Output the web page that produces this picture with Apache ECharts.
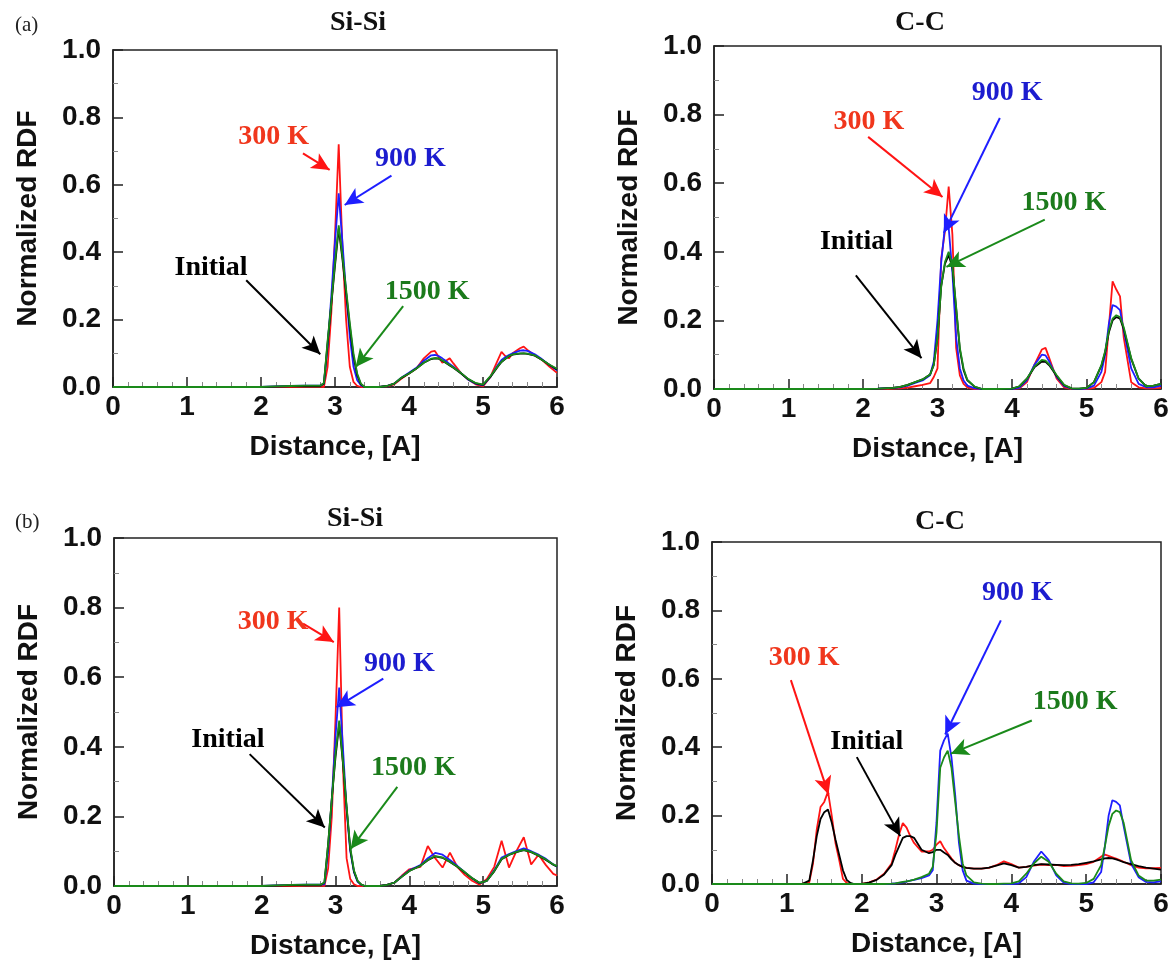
<!DOCTYPE html>
<html><head><meta charset="utf-8">
<script src="https://cdn.jsdelivr.net/npm/echarts@6/dist/echarts.min.js"></script>
<style>html,body{margin:0;padding:0;background:#fff}#c{width:1172px;height:968px}</style>
</head><body><div id="c"></div><script>
// ---------- DATA ----------
// (a) Si-Si
const xSiA = [0, 1, 2, 2.2, 2.4, 2.6, 2.8, 2.85, 2.9, 2.95, 3.0, 3.05, 3.1, 3.15, 3.2, 3.25, 3.3, 3.35,
  3.4, 3.5, 3.6, 3.7, 3.8, 3.9, 4.0, 4.1, 4.2, 4.3, 4.35, 4.4, 4.45, 4.5, 4.55, 4.6, 4.7, 4.8, 4.9, 5.0, 5.1, 5.2, 5.25, 5.3, 5.35, 5.4, 5.5, 5.55, 5.6, 5.7, 5.8, 5.9, 6.0];
const red_SiA = [0, 0, 0, 0, 0, 0.001, 0.001, 0, 0.06, 0.22, 0.45, 0.72, 0.42, 0.2, 0.06, 0.015, 0.003, 0,
  0, 0, 0, 0.002, 0.008, 0.025, 0.04, 0.055, 0.085, 0.105, 0.107, 0.09, 0.072, 0.078, 0.085, 0.07, 0.042, 0.022, 0.008, 0.002, 0.03, 0.08, 0.104, 0.092, 0.085, 0.1, 0.115, 0.12, 0.11, 0.094, 0.08, 0.06, 0.042];
const blue_SiA = [0, 0, 0, 0.002, 0.003, 0.004, 0.004, 0.01, 0.12, 0.27, 0.43, 0.575, 0.43, 0.28, 0.15, 0.06, 0.02, 0.005,
  0, 0, 0, 0.003, 0.01, 0.028, 0.042, 0.057, 0.078, 0.094, 0.095, 0.092, 0.085, 0.077, 0.068, 0.06, 0.042, 0.022, 0.01, 0.005, 0.03, 0.065, 0.08, 0.088, 0.095, 0.1, 0.108, 0.109, 0.107, 0.097, 0.082, 0.065, 0.05];
const green_SiA = [0, 0, 0, 0.002, 0.003, 0.004, 0.004, 0.012, 0.137, 0.25, 0.37, 0.48, 0.39, 0.29, 0.19, 0.1, 0.04, 0.01,
  0, 0, 0, 0.003, 0.01, 0.028, 0.04, 0.055, 0.072, 0.084, 0.086, 0.085, 0.079, 0.072, 0.065, 0.058, 0.042, 0.024, 0.012, 0.007, 0.032, 0.062, 0.075, 0.084, 0.092, 0.097, 0.1, 0.1, 0.099, 0.094, 0.08, 0.066, 0.054];
const init_SiA = [0, 0, 0, 0.001, 0.002, 0.003, 0.003, 0.01, 0.13, 0.245, 0.36, 0.47, 0.38, 0.28, 0.18, 0.09, 0.035, 0.008,
  0, 0, 0, 0.003, 0.01, 0.027, 0.04, 0.055, 0.072, 0.083, 0.085, 0.084, 0.078, 0.071, 0.064, 0.057, 0.041, 0.023, 0.011, 0.006, 0.03, 0.06, 0.074, 0.083, 0.091, 0.096, 0.099, 0.1, 0.098, 0.093, 0.08, 0.065, 0.052];

// (a) C-C
const xCCA = [0, 1, 2, 2.2, 2.4, 2.5, 2.6, 2.7, 2.8, 2.9, 2.95, 3.0, 3.05, 3.1, 3.15, 3.2, 3.25, 3.3, 3.35, 3.4, 3.5, 3.6,
  3.8, 4.0, 4.1, 4.2, 4.3, 4.4, 4.45, 4.5, 4.6, 4.7, 4.8, 4.9, 5.0, 5.1, 5.2, 5.25, 5.3, 5.35, 5.4, 5.45, 5.5, 5.6, 5.7, 5.8, 5.9, 6.0];
const red_CCA = [0, 0, 0, 0, 0.001, 0.002, 0.004, 0.008, 0.012, 0.017, 0.035, 0.06, 0.38, 0.46, 0.59, 0.45, 0.12, 0.04, 0.015, 0.005, 0, 0,
  0, 0, 0.002, 0.02, 0.07, 0.115, 0.12, 0.09, 0.03, 0.005, 0, 0, 0, 0.003, 0.02, 0.05, 0.18, 0.314, 0.29, 0.27, 0.15, 0.02, 0.005, 0.002, 0.002, 0.003];
const blue_CCA = [0, 0, 0, 0.001, 0.003, 0.005, 0.01, 0.018, 0.025, 0.04, 0.08, 0.2, 0.37, 0.475, 0.47, 0.34, 0.15, 0.06, 0.025, 0.01, 0.002, 0,
  0, 0, 0.004, 0.025, 0.07, 0.1, 0.098, 0.08, 0.035, 0.008, 0.001, 0, 0.001, 0.01, 0.05, 0.1, 0.19, 0.245, 0.24, 0.23, 0.17, 0.06, 0.015, 0.005, 0.005, 0.01];
const green_CCA = [0, 0, 0, 0.001, 0.003, 0.006, 0.012, 0.02, 0.028, 0.042, 0.07, 0.15, 0.3, 0.37, 0.4, 0.36, 0.24, 0.12, 0.06, 0.027, 0.007, 0,
  0, 0.001, 0.008, 0.03, 0.065, 0.085, 0.083, 0.072, 0.04, 0.012, 0.002, 0.001, 0.003, 0.02, 0.07, 0.11, 0.17, 0.205, 0.215, 0.21, 0.18, 0.09, 0.03, 0.008, 0.01, 0.015];
const init_CCA = [0, 0, 0, 0.001, 0.003, 0.006, 0.012, 0.02, 0.028, 0.042, 0.07, 0.15, 0.3, 0.365, 0.39, 0.355, 0.235, 0.115, 0.055, 0.025, 0.006, 0,
  0, 0.001, 0.008, 0.03, 0.063, 0.08, 0.079, 0.069, 0.038, 0.011, 0.002, 0.001, 0.003, 0.02, 0.068, 0.107, 0.165, 0.2, 0.21, 0.205, 0.175, 0.088, 0.03, 0.008, 0.01, 0.015];

// (b) Si-Si
const xSiB = [0, 1, 2, 2.2, 2.4, 2.6, 2.8, 2.85, 2.9, 2.95, 3.0, 3.05, 3.1, 3.15, 3.2, 3.25, 3.3, 3.35,
  3.4, 3.5, 3.6, 3.7, 3.8, 3.9, 4.0, 4.1, 4.15, 4.25, 4.35, 4.45, 4.55, 4.65, 4.75, 4.85, 4.95, 5.05, 5.15, 5.25, 5.35, 5.45, 5.55, 5.65, 5.75, 5.85, 5.95, 6.0];
const red_SiB = [0, 0, 0, 0, 0, 0.001, 0.001, 0, 0.05, 0.2, 0.48, 0.8, 0.35, 0.08, 0.02, 0.005, 0, 0,
  0, 0, 0, 0.003, 0.01, 0.03, 0.048, 0.053, 0.055, 0.115, 0.08, 0.053, 0.096, 0.055, 0.032, 0.015, 0.004, 0.02, 0.055, 0.13, 0.053, 0.1, 0.14, 0.062, 0.09, 0.06, 0.035, 0.03];
const blue_SiB = [0, 0, 0, 0.002, 0.003, 0.004, 0.004, 0.005, 0.1, 0.25, 0.43, 0.57, 0.4, 0.22, 0.1, 0.04, 0.012, 0.003,
  0, 0, 0, 0.003, 0.01, 0.028, 0.045, 0.055, 0.06, 0.08, 0.095, 0.09, 0.075, 0.058, 0.04, 0.022, 0.008, 0.015, 0.045, 0.082, 0.092, 0.1, 0.108, 0.1, 0.09, 0.078, 0.062, 0.055];
const green_SiB = [0, 0, 0, 0.002, 0.003, 0.004, 0.004, 0.01, 0.12, 0.25, 0.38, 0.475, 0.36, 0.23, 0.11, 0.045, 0.015, 0.004,
  0, 0, 0, 0.003, 0.01, 0.027, 0.043, 0.053, 0.058, 0.075, 0.086, 0.082, 0.07, 0.056, 0.04, 0.023, 0.009, 0.015, 0.043, 0.078, 0.09, 0.098, 0.104, 0.098, 0.088, 0.076, 0.062, 0.057];
const init_SiB = [0, 0, 0, 0.001, 0.002, 0.003, 0.003, 0.01, 0.12, 0.25, 0.37, 0.465, 0.355, 0.225, 0.105, 0.042, 0.014, 0.004,
  0, 0, 0, 0.003, 0.01, 0.027, 0.043, 0.053, 0.058, 0.074, 0.085, 0.081, 0.069, 0.055, 0.039, 0.022, 0.009, 0.015, 0.042, 0.077, 0.089, 0.097, 0.103, 0.097, 0.087, 0.075, 0.061, 0.056];

// (b) C-C
const xCCB = [0, 1, 1.2, 1.3, 1.35, 1.4, 1.45, 1.5, 1.55, 1.6,
  1.65, 1.7, 1.75, 1.8, 1.85, 1.9, 2.0, 2.1, 2.2, 2.3,
  2.4, 2.45, 2.5, 2.55, 2.6, 2.65, 2.7, 2.8, 2.9, 2.95,
  3.0, 3.05, 3.1, 3.15, 3.2, 3.25, 3.3, 3.35, 3.4, 3.5,
  3.6, 3.7, 3.8, 3.9, 4.0, 4.1, 4.2, 4.3, 4.4, 4.5,
  4.6, 4.7, 4.8, 4.9, 5.0, 5.1, 5.2, 5.25, 5.3, 5.35,
  5.4, 5.45, 5.5, 5.6, 5.7, 5.8, 5.9, 6.0];
const red_CCB = [0, 0, 0, 0.005, 0.06, 0.16, 0.225, 0.24, 0.27, 0.2,
  0.12, 0.07, 0.015, 0.003, 0, 0, 0, 0.005, 0.013, 0.03,
  0.06, 0.1, 0.145, 0.178, 0.165, 0.14, 0.12, 0.095, 0.095, 0.1,
  0.115, 0.125, 0.105, 0.09, 0.075, 0.062, 0.055, 0.05, 0.047, 0.045,
  0.045, 0.047, 0.055, 0.066, 0.058, 0.048, 0.05, 0.054, 0.057, 0.055,
  0.056, 0.052, 0.053, 0.055, 0.058, 0.065, 0.08, 0.086, 0.082, 0.078,
  0.074, 0.07, 0.065, 0.055, 0.048, 0.046, 0.046, 0.047];
const blue_CCB = [0, 0, 0, 0, 0, 0, 0, 0, 0, 0,
  0, 0, 0, 0, 0, 0, 0, 0, 0, 0,
  0.001, 0.002, 0.003, 0.005, 0.007, 0.01, 0.012, 0.017, 0.025, 0.04,
  0.18, 0.39, 0.42, 0.44, 0.37, 0.26, 0.12, 0.04, 0.01, 0.001,
  0, 0, 0, 0, 0, 0.002, 0.02, 0.065, 0.095, 0.07,
  0.025, 0.004, 0, 0, 0, 0.005, 0.035, 0.11, 0.2, 0.245,
  0.24, 0.23, 0.17, 0.06, 0.02, 0.006, 0.005, 0.008];
const green_CCB = [0, 0, 0, 0, 0, 0, 0, 0, 0, 0,
  0, 0, 0, 0, 0, 0, 0, 0, 0, 0,
  0.001, 0.002, 0.004, 0.006, 0.008, 0.01, 0.013, 0.02, 0.03, 0.05,
  0.15, 0.34, 0.37, 0.39, 0.34, 0.24, 0.14, 0.06, 0.025, 0.005,
  0.001, 0, 0, 0.001, 0.002, 0.008, 0.03, 0.06, 0.08, 0.065,
  0.03, 0.008, 0.002, 0.001, 0.003, 0.015, 0.055, 0.11, 0.17, 0.205,
  0.215, 0.21, 0.18, 0.07, 0.025, 0.01, 0.01, 0.013];
const init_CCB = [0, 0, 0, 0.01, 0.07, 0.14, 0.19, 0.21, 0.218, 0.18,
  0.13, 0.085, 0.04, 0.012, 0.003, 0, 0, 0.004, 0.012, 0.028,
  0.055, 0.085, 0.11, 0.135, 0.14, 0.14, 0.135, 0.1, 0.09, 0.093,
  0.1, 0.1, 0.092, 0.085, 0.072, 0.062, 0.055, 0.05, 0.047, 0.045,
  0.045, 0.048, 0.054, 0.06, 0.055, 0.048, 0.05, 0.055, 0.058, 0.057,
  0.056, 0.055, 0.056, 0.058, 0.062, 0.066, 0.072, 0.075, 0.076, 0.075,
  0.072, 0.068, 0.064, 0.058, 0.052, 0.048, 0.045, 0.042];

const xTicks = [0, 1, 2, 3, 4, 5, 6];
const yTicks = [0.0, 0.2, 0.4, 0.6, 0.8, 1.0];
const seriesNames = ['300 K', '900 K', 'Initial', '1500 K'];

// annotation anchors in data units: [label centre], arrow [from] -> [to]
const annSiA = { '300 K': [[2.17, 0.743], [2.567, 0.693], [2.928, 0.644]], '900 K': [[4.02, 0.678], [3.763, 0.627], [3.131, 0.540]],
  'Initial': [[1.325, 0.354], [1.80, 0.317], [2.801, 0.097]], '1500 K': [[4.246, 0.282], [3.921, 0.240], [3.28, 0.059]] };
const annCCA = { '300 K': [[2.078, 0.780], [2.069, 0.735], [3.067, 0.560]], '900 K': [[3.935, 0.863], [3.837, 0.790], [3.085, 0.455]],
  'Initial': [[1.913, 0.430], [1.904, 0.331], [2.785, 0.090]], '1500 K': [[4.696, 0.542], [4.44, 0.494], [3.12, 0.356]] };
const annSiB = { '300 K': [[2.154, 0.759], [2.561, 0.754], [2.977, 0.701]], '900 K': [[3.864, 0.639], [3.647, 0.596], [3.014, 0.514]],
  'Initial': [[1.543, 0.421], [1.837, 0.379], [2.855, 0.168]], '1500 K': [[4.054, 0.339], [3.837, 0.285], [3.204, 0.106]] };
const annCCB = { '300 K': [[1.232, 0.661], [1.054, 0.596], [1.557, 0.262]], '900 K': [[4.082, 0.851], [3.860, 0.771], [3.116, 0.437]],
  'Initial': [[2.069, 0.415], [1.935, 0.371], [2.515, 0.140]], '1500 K': [[4.853, 0.534], [4.274, 0.478], [3.192, 0.381]] };

// ---------- BUILD ----------
const panels = [
  { grid: { left: 113, top: 50, width: 444, height: 337 }, x: xSiA, ys: [red_SiA, blue_SiA, init_SiA, green_SiA], ann: annSiA },
  { grid: { left: 714, top: 46, width: 447, height: 343 }, x: xCCA, ys: [red_CCA, blue_CCA, init_CCA, green_CCA], ann: annCCA },
  { grid: { left: 114, top: 538, width: 443, height: 348 }, x: xSiB, ys: [red_SiB, blue_SiB, init_SiB, green_SiB], ann: annSiB },
  { grid: { left: 712, top: 542, width: 449, height: 342 }, x: xCCB, ys: [red_CCB, blue_CCB, init_CCB, green_CCB], ann: annCCB }
];
const lineColors = ['#ff1414', '#1e1eff', '#000000', '#1a8a1a'];
const textColors = ['#f0361c', '#1c1ccf', '#000000', '#1b7a1b'];
const sans = '"Liberation Sans", Arial, sans-serif';
const serif = '"Liberation Serif", "Times New Roman", serif';

panels.forEach(p => p.ys.forEach(y => { if (y.length !== p.x.length) throw new Error('length mismatch ' + y.length + ' vs ' + p.x.length); }));

const grids = [], xAxes = [], yAxes = [], series = [];
panels.forEach((p, gi) => {
  grids.push(Object.assign({ show: true, borderColor: '#222', borderWidth: 1.5, backgroundColor: 'transparent' }, p.grid));
  xAxes.push({
    gridIndex: gi, type: 'value', min: xTicks[0], max: xTicks[xTicks.length - 1], interval: 1,
    name: 'Distance, [A]', nameLocation: 'middle', nameGap: 46,
    nameTextStyle: { fontFamily: sans, fontWeight: 'bold', fontSize: 28, color: '#111' },
    axisLine: { show: true, onZero: false, lineStyle: { color: '#222', width: 1.5 } },
    axisTick: { show: true, inside: true, length: 10, lineStyle: { color: '#222', width: 1.5 } },
    minorTick: { show: true, splitNumber: 5, length: 5, lineStyle: { color: '#888', width: 1 } },
    splitLine: { show: false },
    axisLabel: { margin: 6, fontFamily: sans, fontWeight: 'bold', fontSize: 28, color: '#111', formatter: v => String(v) }
  });
  yAxes.push({
    gridIndex: gi, type: 'value', min: yTicks[0], max: yTicks[yTicks.length - 1], interval: 0.2,
    name: 'Normalized RDF', nameLocation: 'middle', nameGap: 71, nameRotate: 90,
    nameTextStyle: { fontFamily: sans, fontWeight: 'bold', fontSize: 28, color: '#111' },
    axisLine: { show: true, onZero: false, lineStyle: { color: '#222', width: 1.5 } },
    axisTick: { show: true, inside: true, length: 10, lineStyle: { color: '#222', width: 1.5 } },
    minorTick: { show: true, splitNumber: 2, length: 5, lineStyle: { color: '#888', width: 1 } },
    splitLine: { show: false },
    axisLabel: { margin: 12, fontFamily: sans, fontWeight: 'bold', fontSize: 28, color: '#111', formatter: v => v.toFixed(1) }
  });
  p.ys.forEach((ys, si) => {
    const nm = seriesNames[si];
    const a = p.ann[nm];
    series.push({
      type: 'line', name: nm, xAxisIndex: gi, yAxisIndex: gi,
      data: p.x.map((x, i) => [x, ys[i]]),
      showSymbol: false, symbol: 'none', silent: true, animation: false,
      lineStyle: { color: lineColors[si], width: 1.8 }, itemStyle: { color: lineColors[si] },
      z: 2 + si,
      markLine: {
        silent: true, animation: false, symbol: ['none', 'arrow'], symbolSize: [13, 18],
        label: { show: false }, lineStyle: { color: lineColors[si], width: 2, type: 'solid' },
        data: [[{ coord: a[1] }, { coord: a[2] }]]
      },
      markPoint: {
        silent: true, animation: false, symbol: 'rect', symbolSize: 1, itemStyle: { color: 'rgba(0,0,0,0)' },
        label: { show: true, position: 'inside', formatter: nm, color: textColors[si], fontFamily: serif, fontWeight: 'bold', fontSize: 28 },
        data: [{ coord: a[0] }]
      }
    });
  });
});

const titleStyle = { fontFamily: serif, fontWeight: 'bold', fontSize: 28, color: '#111' };
const tagStyle = { fontFamily: serif, fontWeight: 'normal', fontSize: 21, color: '#222' };
const option = {
  backgroundColor: '#fff',
  animation: false,
  title: [
    { text: 'Si-Si', left: 353, top: 4, textAlign: 'center', textStyle: titleStyle },
    { text: 'C-C', left: 915, top: 4, textAlign: 'center', textStyle: titleStyle },
    { text: 'Si-Si', left: 350, top: 500, textAlign: 'center', textStyle: titleStyle },
    { text: 'C-C', left: 935, top: 503, textAlign: 'center', textStyle: titleStyle },
    { text: '(a)', left: 10, top: 10, textStyle: tagStyle },
    { text: '(b)', left: 10, top: 507, textStyle: tagStyle }
  ],
  grid: grids, xAxis: xAxes, yAxis: yAxes, series: series
};
const chart = echarts.init(document.getElementById('c'), null, { renderer: 'canvas' });
chart.setOption(option);
</script></body></html>
